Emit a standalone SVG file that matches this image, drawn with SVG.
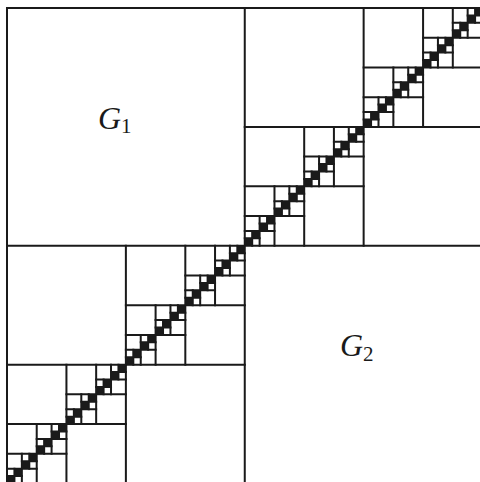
<svg xmlns="http://www.w3.org/2000/svg" width="480" height="482" viewBox="0 0 480 482">
<style>
.ln{fill:none;stroke:#1a1a1a;stroke-width:0.27;stroke-linecap:square}
.blk{fill:#1a1a1a;stroke:none}
.lbl{font-family:"Liberation Serif","DejaVu Serif",serif;fill:#1a1a1a}
.it{font-style:italic;font-size:32px}
.sub{font-size:21px}
</style>
<rect width="480" height="482" fill="#ffffff"/>
<g id="connectors" transform="translate(7,8) scale(7.43)">
<rect class="ln" x="0" y="0" width="64" height="64"/>
<path class="ln" d="M32 0v64M0 32h64"/>
<path class="ln" d="M16 32v32M0 48h32M48 0v32M32 16h32"/>
<path class="ln" d="M8 48v16M0 56h16M24 32v16M16 40h16M40 16v16M32 24h16M56 0v16M48 8h16"/>
<path class="ln" d="M4 56v8M0 60h8M12 48v8M8 52h8M20 40v8M16 44h8M28 32v8M24 36h8M36 24v8M32 28h8M44 16v8M40 20h8M52 8v8M48 12h8M60 0v8M56 4h8"/>
<path class="ln" d="M2 60v4M0 62h4M6 56v4M4 58h4M10 52v4M8 54h4M14 48v4M12 50h4M18 44v4M16 46h4M22 40v4M20 42h4M26 36v4M24 38h4M30 32v4M28 34h4M34 28v4M32 30h4M38 24v4M36 26h4M42 20v4M40 22h4M46 16v4M44 18h4M50 12v4M48 14h4M54 8v4M52 10h4M58 4v4M56 6h4M62 0v4M60 2h4"/>
<path class="ln" d="M1 62v2M0 63h2M3 60v2M2 61h2M5 58v2M4 59h2M7 56v2M6 57h2M9 54v2M8 55h2M11 52v2M10 53h2M13 50v2M12 51h2M15 48v2M14 49h2M17 46v2M16 47h2M19 44v2M18 45h2M21 42v2M20 43h2M23 40v2M22 41h2M25 38v2M24 39h2M27 36v2M26 37h2M29 34v2M28 35h2M31 32v2M30 33h2M33 30v2M32 31h2M35 28v2M34 29h2M37 26v2M36 27h2M39 24v2M38 25h2M41 22v2M40 23h2M43 20v2M42 21h2M45 18v2M44 19h2M47 16v2M46 17h2M49 14v2M48 15h2M51 12v2M50 13h2M53 10v2M52 11h2M55 8v2M54 9h2M57 6v2M56 7h2M59 4v2M58 5h2M61 2v2M60 3h2M63 0v2M62 1h2"/>
<path class="blk" d="M0 63h1v1h-1zM1 62h1v1h-1zM2 61h1v1h-1zM3 60h1v1h-1zM4 59h1v1h-1zM5 58h1v1h-1zM6 57h1v1h-1zM7 56h1v1h-1zM8 55h1v1h-1zM9 54h1v1h-1zM10 53h1v1h-1zM11 52h1v1h-1zM12 51h1v1h-1zM13 50h1v1h-1zM14 49h1v1h-1zM15 48h1v1h-1zM16 47h1v1h-1zM17 46h1v1h-1zM18 45h1v1h-1zM19 44h1v1h-1zM20 43h1v1h-1zM21 42h1v1h-1zM22 41h1v1h-1zM23 40h1v1h-1zM24 39h1v1h-1zM25 38h1v1h-1zM26 37h1v1h-1zM27 36h1v1h-1zM28 35h1v1h-1zM29 34h1v1h-1zM30 33h1v1h-1zM31 32h1v1h-1zM32 31h1v1h-1zM33 30h1v1h-1zM34 29h1v1h-1zM35 28h1v1h-1zM36 27h1v1h-1zM37 26h1v1h-1zM38 25h1v1h-1zM39 24h1v1h-1zM40 23h1v1h-1zM41 22h1v1h-1zM42 21h1v1h-1zM43 20h1v1h-1zM44 19h1v1h-1zM45 18h1v1h-1zM46 17h1v1h-1zM47 16h1v1h-1zM48 15h1v1h-1zM49 14h1v1h-1zM50 13h1v1h-1zM51 12h1v1h-1zM52 11h1v1h-1zM53 10h1v1h-1zM54 9h1v1h-1zM55 8h1v1h-1zM56 7h1v1h-1zM57 6h1v1h-1zM58 5h1v1h-1zM59 4h1v1h-1zM60 3h1v1h-1zM61 2h1v1h-1zM62 1h1v1h-1zM63 0h1v1h-1z"/>
</g>
<g id="G1">
<text class="lbl it" x="98" y="129">G</text>
<text class="lbl sub" x="121" y="133">1</text>
</g>
<g id="G2">
<text class="lbl it" x="340" y="356">G</text>
<text class="lbl sub" x="363" y="361">2</text>
</g>
</svg>
